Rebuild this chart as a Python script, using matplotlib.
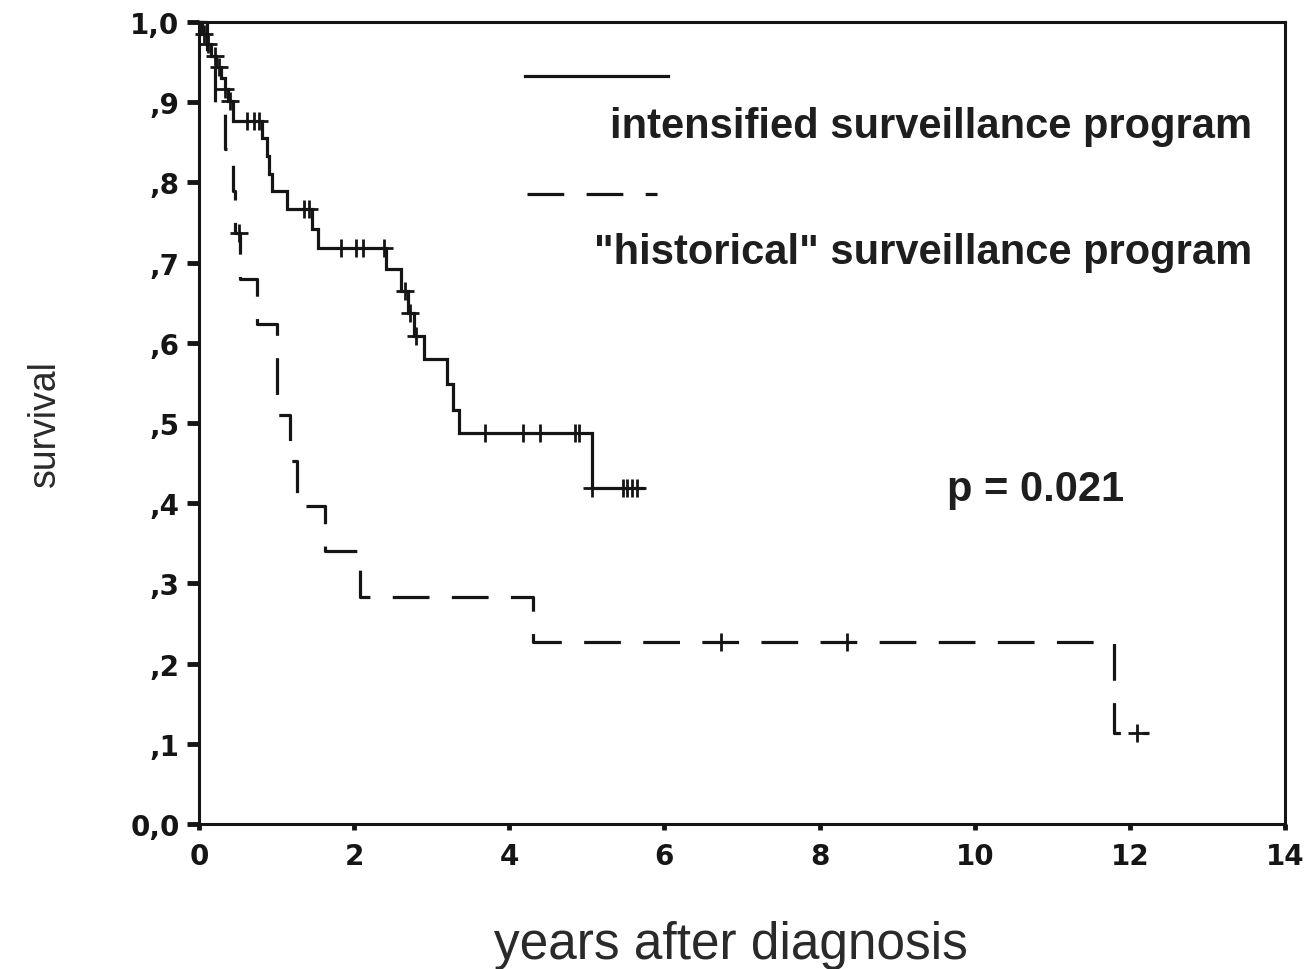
import numpy as np
import matplotlib
matplotlib.use("Agg")
import matplotlib.pyplot as plt

plt.rcParams['font.family'] = ['Liberation Sans', 'DejaVu Sans']

# Kaplan-Meier step data: event times (years) and survival after each step
intens_times = [0.04, 0.10, 0.16, 0.22, 0.28, 0.33, 0.38, 0.44, 0.81, 0.88, 0.90,
                0.94, 1.13, 1.46, 1.54, 2.41, 2.60, 2.69, 2.77, 2.90, 3.20, 3.28,
                3.35, 5.06]
intens_surv = [0.985, 0.972, 0.958, 0.944, 0.930, 0.916, 0.902, 0.877, 0.855,
               0.833, 0.811, 0.789, 0.767, 0.742, 0.718, 0.692, 0.665, 0.637,
               0.609, 0.580, 0.549, 0.516, 0.487, 0.419]
intens_end = 5.72
intens_censored = [0.07, 0.12, 0.20, 0.26, 0.33, 0.40, 0.62, 0.71, 0.77, 1.36,
                   1.42, 1.83, 2.03, 2.11, 2.38, 2.65, 2.72, 2.80, 3.69, 4.18,
                   4.40, 4.85, 4.90, 5.06, 5.46, 5.52, 5.58, 5.65]

hist_times = [0.10, 0.20, 0.335, 0.44, 0.47, 0.53, 0.75, 1.00, 1.17, 1.26, 1.62,
              2.07, 4.30, 11.80]
hist_surv = [0.947, 0.895, 0.842, 0.789, 0.737, 0.680, 0.623, 0.510, 0.453,
             0.397, 0.340, 0.283, 0.227, 0.113]
hist_end = 12.25
hist_censored = [0.51, 6.73, 8.35, 12.09]

x_ticks = [0, 2, 4, 6, 8, 10, 12, 14]
y_ticks = [0.0, 0.1, 0.2, 0.3, 0.4, 0.5, 0.6, 0.7, 0.8, 0.9, 1.0]
y_tick_labels = ['0,0', ',1', ',2', ',3', ',4', ',5', ',6', ',7', ',8', ',9', '1,0']

label_intens = 'intensified surveillance program'
label_hist = '"historical" surveillance program'
p_text = 'p = 0.021'

INK = '#151515'
TICK_FONT = ['DejaVu Sans']


def step_xy(times, surv, end):
    xs = np.concatenate([[0.0], times, [end]])
    ys = np.concatenate([[1.0], surv, [surv[-1]]])
    return xs, ys


def level_at(times, surv, t):
    idx = np.searchsorted(times, t, side='right')
    levels = np.concatenate([[1.0], surv])
    return levels[idx]


fig = plt.figure(figsize=(13.1, 9.7), dpi=100)
ax = fig.add_axes([199 / 1310, 145 / 970, 1086 / 1310, 802 / 970])

lw = 2.3
xs, ys = step_xy(intens_times, intens_surv, intens_end)
ax.plot(xs, ys, drawstyle='steps-post', color=INK, lw=lw, clip_on=False,
        solid_joinstyle='miter')
ax.plot(intens_censored, level_at(intens_times, intens_surv, intens_censored),
        ls='none', marker='+', ms=13, mew=2.0, color=INK, clip_on=False)

xs, ys = step_xy(hist_times, hist_surv, hist_end)
ax.plot(xs, ys, drawstyle='steps-post', color=INK, lw=lw, dashes=(11.5, 7),
        clip_on=False, dash_capstyle='butt')
ax.plot(hist_censored, level_at(hist_times, hist_surv, hist_censored),
        ls='none', marker='+', ms=13, mew=2.0, color=INK, clip_on=False)

ax.set_xlim(0, 14)
ax.set_ylim(0, 1.0)
ax.set_xticks(x_ticks)
ax.set_xticklabels([str(v) for v in x_ticks], fontsize=20, fontweight='bold',
                   color=INK, family=TICK_FONT)
ax.set_yticks(y_ticks)
ax.set_yticklabels(y_tick_labels, fontsize=20, fontweight='bold', color=INK,
                   family=TICK_FONT)
ax.tick_params(axis='y', direction='out', length=9, width=3.5, pad=5, colors=INK)
ax.tick_params(axis='x', direction='out', length=4, width=3.5, pad=9, colors=INK)
for s in ax.spines.values():
    s.set_linewidth(2.2)
    s.set_color(INK)

ax.set_xlabel('years after diagnosis', fontsize=37, color='#2a2a2a')
ax.xaxis.set_label_coords(0.49, -0.150)
ax.xaxis.label.set_va('center')
ax.set_ylabel('survival', fontsize=27, color='#2a2a2a')
ax.yaxis.set_label_coords(-0.142, 0.501)
ax.yaxis.label.set_va('center')

# key drawn inside the plot area
ax.plot([0.300, 0.432], [0.933, 0.933], transform=ax.transAxes, color=INK,
        lw=lw, clip_on=False)
ax.text(0.970, 0.870, label_intens, transform=ax.transAxes, ha='right',
        va='center', fontsize=30, fontweight='bold', color='#1e1e1e')
ax.plot([0.302, 0.422], [0.786, 0.786], transform=ax.transAxes, color=INK,
        lw=lw, dashes=(11.5, 7), dash_capstyle='butt', clip_on=False)
ax.text(0.970, 0.713, label_hist, transform=ax.transAxes, ha='right',
        va='center', fontsize=30, fontweight='bold', color='#1e1e1e')
ax.text(0.689, 0.418, p_text, transform=ax.transAxes, ha='left',
        va='center', fontsize=30, fontweight='bold', color='#1e1e1e')

fig.savefig('out.png', dpi=100)
